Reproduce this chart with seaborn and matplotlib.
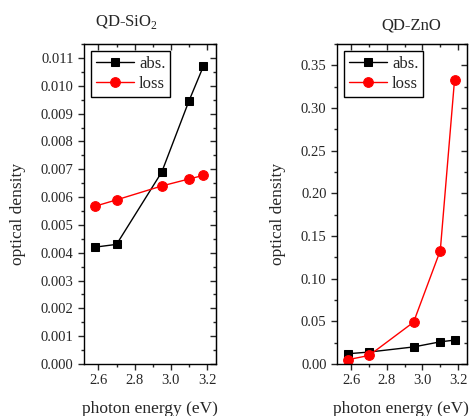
"""
Optical density vs photon energy for QD-SiO2 and QD-ZnO films.
Two side-by-side panels: absorption (black squares) and loss (red circles).
"""

import matplotlib
matplotlib.use("Agg")
import matplotlib.pyplot as plt
import numpy as np
import pandas as pd
import seaborn as sns
from matplotlib.ticker import MultipleLocator

# ==========================================
# DATA
# ==========================================
energy = [2.58, 2.70, 2.95, 3.10, 3.18]

sio2_abs = [0.0042, 0.0043, 0.0069, 0.00945, 0.0107]
sio2_loss = [0.00567, 0.0059, 0.0064, 0.00665, 0.00678]

zno_abs = [0.012, 0.014, 0.020, 0.026, 0.028]
zno_loss = [0.005, 0.010, 0.049, 0.133, 0.333]

panel_titles = ["QD-SiO$_2$", "QD-ZnO"]
series_labels = ["abs.", "loss"]


def style_axis(ax, ymax, ymajor, yminor, yfmt):
    ax.set_xlim(2.52, 3.25)
    ax.set_ylim(0, ymax)
    ax.xaxis.set_major_locator(MultipleLocator(0.2))
    ax.xaxis.set_minor_locator(MultipleLocator(0.1))
    ax.yaxis.set_major_locator(MultipleLocator(ymajor))
    ax.yaxis.set_minor_locator(MultipleLocator(yminor))
    ax.yaxis.set_major_formatter(plt.FormatStrFormatter(yfmt))
    ax.xaxis.set_major_formatter(plt.FormatStrFormatter("%.1f"))
    ax.tick_params(which="major", direction="out", length=4, width=1, labelsize=10.5)
    ax.tick_params(which="minor", direction="out", length=2.5, width=1)
    for s in ax.spines.values():
        s.set_visible(True)
        s.set_linewidth(1)
        s.set_color("black")

    # mirrored ticks pointing inwards on top / right
    top = ax.secondary_xaxis("top")
    top.xaxis.set_major_locator(MultipleLocator(0.2))
    top.xaxis.set_minor_locator(MultipleLocator(0.1))
    top.tick_params(which="major", direction="in", length=4, width=1, labeltop=False)
    top.tick_params(which="minor", direction="in", length=2.5, width=1)
    right = ax.secondary_yaxis("right")
    right.yaxis.set_major_locator(MultipleLocator(ymajor))
    right.yaxis.set_minor_locator(MultipleLocator(yminor))
    right.tick_params(which="major", direction="in", length=4, width=1, labelright=False)
    right.tick_params(which="minor", direction="in", length=2.5, width=1)
    ax.set_xlabel("")
    ax.set_ylabel("")


def main():
    sns.set_style("ticks")
    plt.rcParams["font.family"] = ["Liberation Serif", "DejaVu Serif"]
    plt.rcParams["mathtext.fontset"] = "custom"
    plt.rcParams["mathtext.rm"] = "Liberation Serif"

    fig = plt.figure(figsize=(4.7, 4.16), dpi=100)
    ax1 = fig.add_axes([0.1787, 0.125, 0.2809, 0.769])
    ax2 = fig.add_axes([0.717, 0.125, 0.2766, 0.769])

    panels = [
        (ax1, sio2_abs, sio2_loss, 0.0115, 0.001, 0.0005, "%.3f"),
        (ax2, zno_abs, zno_loss, 0.375, 0.05, 0.025, "%.2f"),
    ]

    for ax, a, l, ymax, ymaj, ymin, fmt in panels:
        df = pd.DataFrame({"E": energy, "abs": a, "loss": l})
        sns.lineplot(data=df, x="E", y="abs", ax=ax, color="black", marker="s",
                     markersize=6, markeredgecolor="black", linewidth=1,
                     label=series_labels[0])
        sns.lineplot(data=df, x="E", y="loss", ax=ax, color="red", marker="o",
                     markersize=7, markeredgecolor="red", linewidth=1,
                     label=series_labels[1])
        style_axis(ax, ymax, ymaj, ymin, fmt)
        leg = ax.legend(loc="upper left", fancybox=False, edgecolor="black",
                        fontsize=12, handlelength=2.3, borderaxespad=0.4,
                        borderpad=0.3, labelspacing=0.25, handletextpad=0.3)
        leg.get_frame().set_linewidth(1)
        leg.get_frame().set_alpha(1)

    # titles and axis labels placed like the original layout
    fig.text(126 / 470, 1 - 22 / 416, panel_titles[0], ha="center", va="center", fontsize=12)
    fig.text(411 / 470, 1 - 26 / 416, panel_titles[1], ha="center", va="center", fontsize=12)
    for xc in (18, 278):
        fig.text(xc / 470, 1 - 214 / 416, "optical density", rotation=90,
                 ha="center", va="center", fontsize=12.5)
    for xc in (150, 401):
        fig.text(xc / 470, 1 - 409 / 416, "photon energy (eV)", ha="center",
                 va="center", fontsize=12.5)

    fig.savefig("out.png", dpi=100)
    plt.close(fig)


if __name__ == "__main__":
    main()
